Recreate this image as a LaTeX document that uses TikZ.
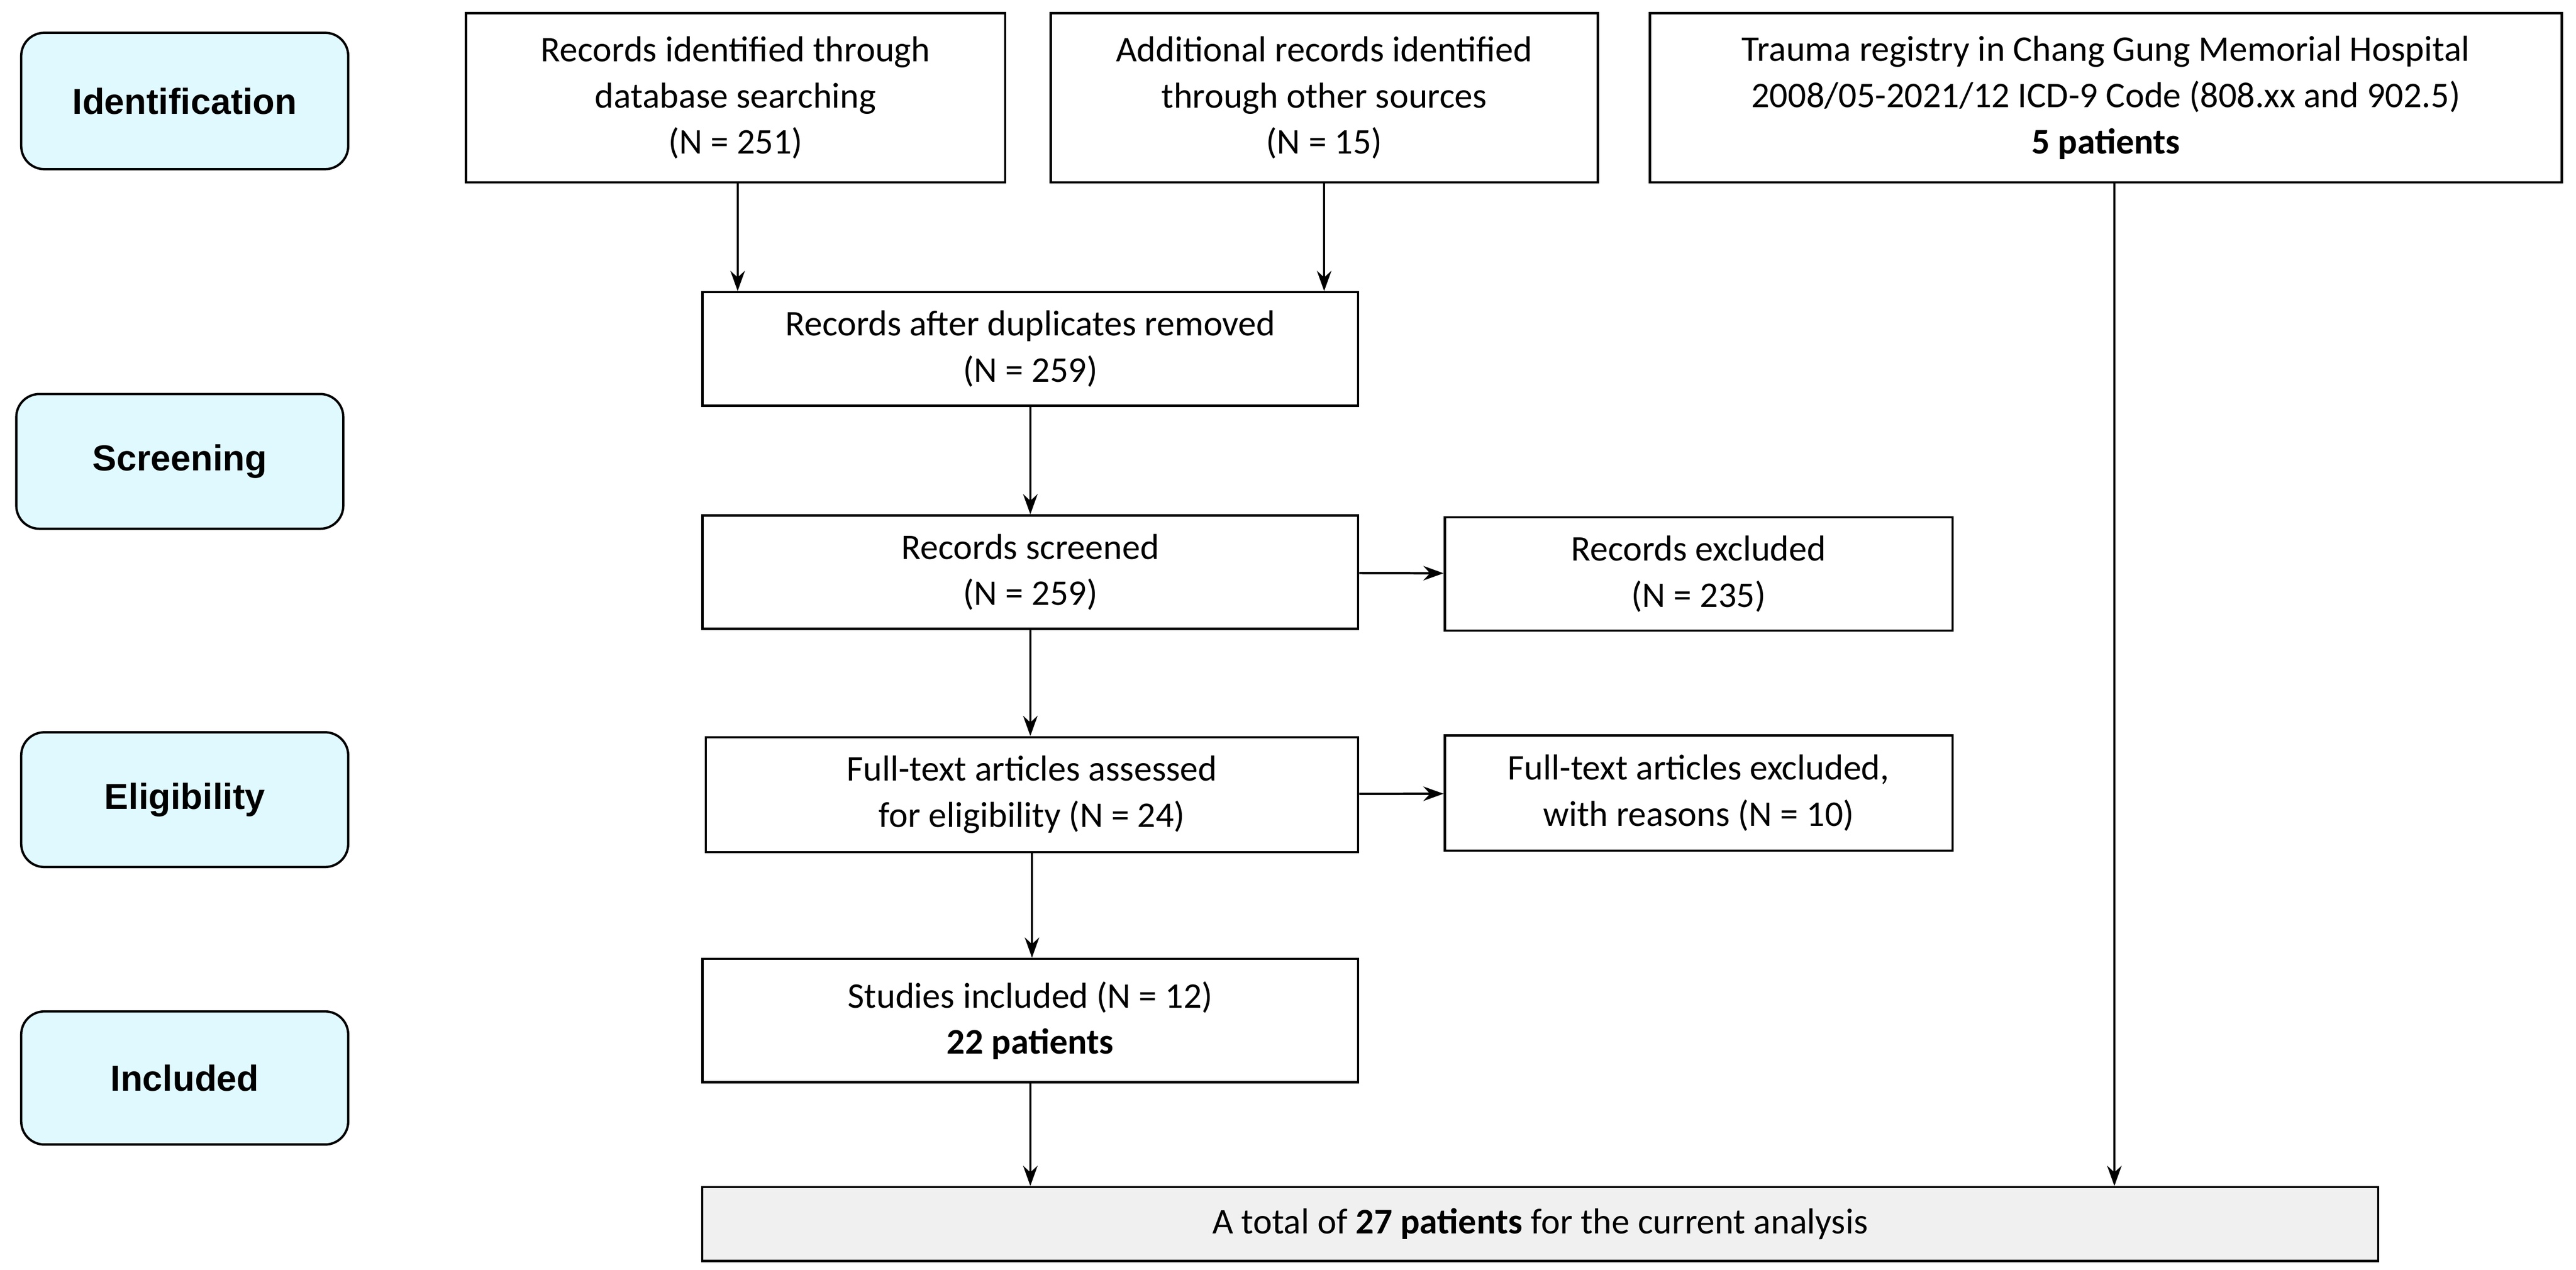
\documentclass[tikz,border=0pt]{standalone}
\usepackage{fontspec}
\setmainfont{Carlito}
\newfontfamily\stagefont{Liberation Sans}
\usetikzlibrary{arrows.meta}
\tikzset{
 box/.style={draw,thick,align=center,inner sep=0pt,font=\fontsize{12.5}{16}\selectfont},
 stage/.style={draw,thick,rounded corners=8pt,fill=blue!20!cyan!12,align=center,inner sep=0pt,font=\stagefont\bfseries\fontsize{12.5}{15}\selectfont},
 arr/.style={-{Stealth[length=7pt,width=5pt]},thick}
}
\newcommand{\bx}[6]{\node[#1,minimum width={(#4-#3)*0.02cm},minimum height={(#6-#5)*0.02cm}] (#2) at ({(#3+#4)*0.01},{-(#5+#6)*0.01})}
\begin{document}
\begin{tikzpicture}
\useasboundingbox (0,0) rectangle (31.36,-15.455);
\bx{stage}{s1}{13}{212}{20}{103}{Identification};
\bx{stage}{s2}{10}{209}{240}{322}{Screening};
\bx{stage}{s3}{13}{212}{446}{528}{Eligibility};
\bx{stage}{s4}{13}{212}{616}{697}{Included};
\bx{box}{b1}{284}{612}{8}{111}{Records identified through\\database searching\\(N = 251)};
\bx{box}{b2}{640}{973}{8}{111}{Additional records identified\\through other sources\\(N = 15)};
\bx{box}{b3}{1005}{1560}{8}{111}{Trauma registry in Chang Gung Memorial Hospital\\2008/05-2021/12 ICD-9 Code (808.xx and 902.5)\\\textbf{5 patients}};
\bx{box}{dup}{428}{827}{178}{247}{Records after duplicates removed\\(N = 259)};
\bx{box}{scr}{428}{827}{314}{383}{Records screened\\(N = 259)};
\bx{box}{exc}{880}{1189}{315}{384}{Records excluded\\(N = 235)};
\bx{box}{ft}{430}{827}{449}{519}{Full-text articles assessed\\for eligibility (N = 24)};
\bx{box}{ftx}{880}{1189}{448}{518}{Full-text articles excluded,\\with reasons (N = 10)};
\bx{box}{inc}{428}{827}{584}{659}{Studies included (N = 12)\\\textbf{22 patients}};
\bx{box,fill=gray!12}{tot}{428}{1448}{723}{768}{A total of \textbf{27 patients} for the current analysis};
\draw[arr] (b1.south -| 8.98,0) -- (dup.north -| 8.98,0);
\draw[arr] (b2.south -| 16.12,0) -- (dup.north -| 16.12,0);
\draw[arr] (dup) -- (scr);
\draw[arr] (scr) -- (exc);
\draw[arr] (scr.south) -- (scr.south |- ft.north);
\draw[arr] (ft) -- (ftx);
\draw[arr] (ft.south) -- (ft.south |- inc.north);
\draw[arr] (inc.south) -- (inc.south |- tot.north);
\draw[arr] (b3.south -| 25.74,0) -- (tot.north -| 25.74,0);
\end{tikzpicture}
\end{document}
